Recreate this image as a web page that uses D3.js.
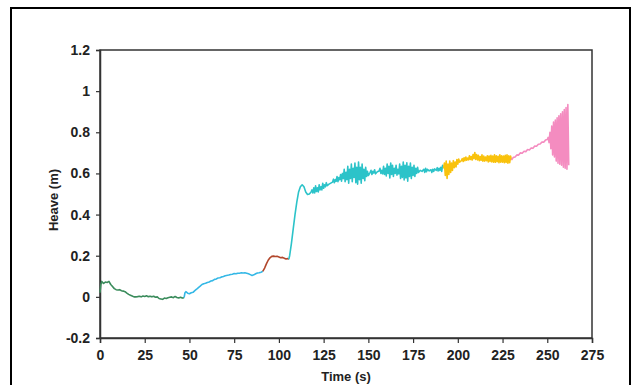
<!DOCTYPE html>
<html>
<head>
<meta charset="utf-8">
<script src="https://cdn.jsdelivr.net/npm/d3@7"></script>
<style>
  body { margin: 0; background: #fff; }
  svg { display: block; font-family: "Liberation Sans", Arial, sans-serif; }
</style>
</head>
<body>
<svg id="chart" width="640" height="385"></svg>
<script>
// Heave time history, one array of [time (s), heave (m)] per coloured stage
const stageGreen = [[0,0.02],[0.5,0.06],[1,0.075],[2,0.065],[3,0.072],[4,0.07],[5,0.075],[6,0.06],[7,0.05],[8,0.04],
  [9,0.035],[10,0.033],[11,0.035],[12,0.03],[13,0.028],[14,0.025],[15,0.018],[16,0.012],[17,0.008],[18,0.004],
  [19,0],[20,0],[21,0.001],[22,0.003],[23,0],[24,0.004],[25,0.002],[26,0.005],[27,0.001],[28,0.003],[29,0],
  [30,0.003],[31,-0.002],[32,0],[33,-0.008],[34,-0.01],[35,-0.012],[36,-0.006],[37,-0.008],[38,-0.004],[39,-0.002],
  [40,0],[41,-0.004],[42,0.002],[43,-0.003],[44,-0.005],[45,-0.002],[46,-0.006],[47,-0.004]];

const stageBlue = [[47,-0.004],[47.5,0.02],[48,0.025],[49,0.018],[50,0.015],[51,0.02],[52,0.022],[53,0.03],[54,0.037],
  [55,0.045],[56,0.052],[57,0.06],[58,0.064],[59,0.066],[60,0.07],[61,0.072],[62,0.077],[63,0.079],[64,0.085],[65,0.087],
  [66,0.092],[67,0.093],[68,0.097],[69,0.099],[70,0.103],[72,0.106],[73,0.109],[74,0.11],[75,0.113],[76,0.112],[77,0.115],
  [78,0.115],[79,0.117],[80,0.116],[81,0.117],[82,0.115],[83,0.112],[84,0.108],[85,0.104],[86,0.107],[87,0.112],[88,0.116],
  [89,0.117],[90,0.12],[91,0.124]];

const stageBrown = [[91,0.124],[92,0.14],[93,0.16],[94,0.178],[95,0.19],[96,0.197],[97,0.198],[98,0.196],[99,0.197],
  [100,0.194],[101,0.19],[102,0.192],[103,0.188],[104,0.184],[105,0.186],[105.5,0.182]];

const stageTeal = [[105.5,0.182],[106,0.2],[107,0.26],[108,0.33],[109,0.4],[110,0.46],[111,0.51],[112,0.535],[113,0.545],
  [114,0.535],[115,0.51],[116,0.498],[117,0.5],[118,0.51],[118.5,0.52],[119,0.505],[119.5,0.53],[120,0.505],[120.5,0.54],
  [121,0.512],[121.5,0.53],[122,0.51],[122.5,0.545],[123,0.52],[123.5,0.535],[124,0.52],[124.5,0.552],[125,0.528],
  [125.5,0.545],[126,0.535],[126.5,0.555],[127,0.54],[128,0.548],[129,0.553],[130,0.558],[130.5,0.572],[131,0.555],
  [131.5,0.57],[132,0.562],[132.5,0.585],[133,0.56],[133.5,0.58],[134,0.57],[134.5,0.595],[135,0.562],[135.5,0.6],
  [136,0.575],[136.5,0.62],[137,0.56],[137.5,0.605],[138,0.57],[138.5,0.635],[139,0.552],[139.5,0.62],[140,0.575],
  [140.5,0.645],[141,0.56],[141.5,0.625],[142,0.58],[142.5,0.65],[143,0.555],[143.5,0.63],[144,0.548],[144.5,0.655],
  [145,0.57],[145.5,0.63],[146,0.552],[146.5,0.645],[147,0.575],[147.5,0.62],[148,0.565],[148.5,0.63],[149,0.585],
  [149.5,0.61],[150,0.59],[151,0.605],[151.5,0.615],[152,0.595],[152.5,0.61],[153,0.602],[153.5,0.618],[154,0.598],
  [155,0.608],[156,0.612],[156.5,0.625],[157,0.6],[157.5,0.615],[158,0.598],[158.5,0.635],[159,0.595],[159.5,0.625],
  [160,0.588],[160.5,0.645],[161,0.6],[161.5,0.635],[162,0.578],[162.5,0.65],[163,0.595],[163.5,0.64],[164,0.585],
  [164.5,0.625],[165,0.6],[165.5,0.64],[166,0.592],[166.5,0.62],[167,0.598],[167.5,0.645],[168,0.575],[168.5,0.635],
  [169,0.58],[169.5,0.655],[170,0.568],[170.5,0.64],[171,0.578],[171.5,0.652],[172,0.562],[172.5,0.635],[173,0.585],
  [173.5,0.65],[174,0.575],[174.5,0.63],[175,0.59],[175.5,0.64],[176,0.585],[176.5,0.625],[177,0.6],[177.5,0.63],
  [178,0.605],[179,0.615],[180,0.61],[181,0.62],[181.5,0.605],[182,0.625],[182.5,0.608],[183,0.62],[184,0.612],
  [185,0.618],[185.5,0.605],[186,0.62],[186.5,0.61],[187,0.622],[188,0.615],[188.5,0.628],[189,0.612],[189.5,0.625],
  [190,0.615],[190.5,0.63],[191,0.61],[191.5,0.64],[192,0.625]];

const stageYellow = [[192,0.625],[192.5,0.65],[193,0.59],[193.5,0.66],[194,0.575],[194.5,0.645],[195,0.595],[195.5,0.66],
  [196,0.605],[196.5,0.65],[197,0.615],[197.5,0.662],[198,0.628],[198.5,0.655],[199,0.632],[199.5,0.668],[200,0.645],
  [200.5,0.67],[201,0.655],[202,0.662],[202.5,0.672],[203,0.658],[203.5,0.676],[204,0.662],[204.5,0.68],[205,0.664],
  [205.5,0.675],[206,0.666],[206.5,0.686],[207,0.668],[207.5,0.682],[208,0.665],[208.5,0.692],[209,0.672],[209.5,0.702],
  [210,0.668],[210.5,0.692],[211,0.666],[211.5,0.688],[212,0.662],[212.5,0.682],[213,0.664],[213.5,0.69],[214,0.66],
  [214.5,0.684],[215,0.66],[215.5,0.68],[216,0.662],[216.5,0.686],[217,0.656],[217.5,0.685],[218,0.658],[218.5,0.688],
  [219,0.656],[219.5,0.684],[220,0.655],[220.5,0.69],[221,0.654],[221.5,0.686],[222,0.657],[222.5,0.683],[223,0.652],
  [223.5,0.69],[224,0.655],[224.5,0.686],[225,0.655],[225.5,0.684],[226,0.652],[226.5,0.688],[227,0.654],[227.5,0.69],
  [228,0.65],[228.5,0.686],[229,0.652],[229.5,0.684],[230,0.665]];

const stagePink = [[230,0.665],[231,0.678],[232,0.68],[233,0.69],[234,0.689],[235,0.7],[236,0.698],[237,0.708],[238,0.706],
  [239,0.716],[240,0.714],[241,0.724],[242,0.722],[243,0.733],[244,0.732],[245,0.742],[246,0.743],[247,0.752],[248,0.752],
  [249,0.762],[250,0.765],[250.5,0.775],[251,0.75],[251.5,0.8],[252,0.72],[252.5,0.83],[253,0.69],[253.5,0.85],[254,0.68],
  [254.5,0.86],[255,0.66],[255.5,0.87],[256,0.65],[256.5,0.88],[257,0.645],[257.5,0.89],[258,0.64],[258.5,0.9],[259,0.63],
  [259.5,0.91],[260,0.625],[260.5,0.92],[261,0.62],[261.5,0.935],[262,0.64]];

const stages = [stageGreen, stageBlue, stageBrown, stageTeal, stageYellow, stagePink];
const stageColors = ["#3b8c5c", "#35b8e6", "#b2472c", "#2cc3c9", "#f9c20c", "#f48cc0"];

const xTicks = [0, 25, 50, 75, 100, 125, 150, 175, 200, 225, 250, 275];
const yTicks = [-0.2, 0, 0.2, 0.4, 0.6, 0.8, 1, 1.2];

const svg = d3.select("#chart");

// outer frame
svg.append("rect")
  .attr("x", 11).attr("y", 8)
  .attr("width", 619).attr("height", 400)
  .attr("fill", "none").attr("stroke", "#000").attr("stroke-width", 2);

const plot = { left: 100, right: 592, top: 50, bottom: 338 };

const x = d3.scaleLinear().domain([0, 275]).range([plot.left, plot.right]);
const y = d3.scaleLinear().domain([-0.2, 1.2]).range([plot.bottom, plot.top]);

// plot box
svg.append("rect")
  .attr("x", plot.left).attr("y", plot.top)
  .attr("width", plot.right - plot.left).attr("height", plot.bottom - plot.top)
  .attr("fill", "none").attr("stroke", "#333").attr("stroke-width", 1.5);

// axes (plain hyphen for negatives, like the original)
const xAxis = svg.append("g")
  .attr("transform", `translate(0,${plot.bottom})`)
  .call(d3.axisBottom(x).tickValues(xTicks).tickSize(5).tickPadding(7).tickFormat(d => String(d)));

const yAxis = svg.append("g")
  .attr("transform", `translate(${plot.left},0)`)
  .call(d3.axisLeft(y).tickValues(yTicks).tickSize(4).tickPadding(6).tickFormat(d => String(+d.toFixed(1))));

[xAxis, yAxis].forEach(ax => {
  ax.select(".domain").attr("stroke", "#333").attr("stroke-width", 1.5);
  ax.selectAll(".tick line").attr("stroke", "#333").attr("stroke-width", 1.2);
  ax.selectAll("text")
    .attr("fill", "#222")
    .attr("font-size", 14)
    .attr("font-weight", "bold")
    .attr("font-family", "'Liberation Sans', Arial, sans-serif");
});

// axis titles
svg.append("text")
  .attr("x", (plot.left + plot.right) / 2).attr("y", 381)
  .attr("text-anchor", "middle")
  .attr("font-size", 13).attr("font-weight", "bold").attr("fill", "#222")
  .text("Time (s)");

svg.append("text")
  .attr("transform", `translate(58,${(plot.top + plot.bottom) / 2 + 6}) rotate(-90)`)
  .attr("text-anchor", "middle")
  .attr("font-size", 13).attr("font-weight", "bold").attr("fill", "#222")
  .text("Heave (m)");

// heave trace, stage by stage
const line = d3.line().x(d => x(d[0])).y(d => y(d[1]));

stages.forEach((stage, i) => {
  svg.append("path")
    .datum(stage)
    .attr("d", line)
    .attr("fill", "none")
    .attr("stroke", stageColors[i])
    .attr("stroke-width", 1.6)
    .attr("stroke-linejoin", "round");
});
</script>
</body>
</html>
